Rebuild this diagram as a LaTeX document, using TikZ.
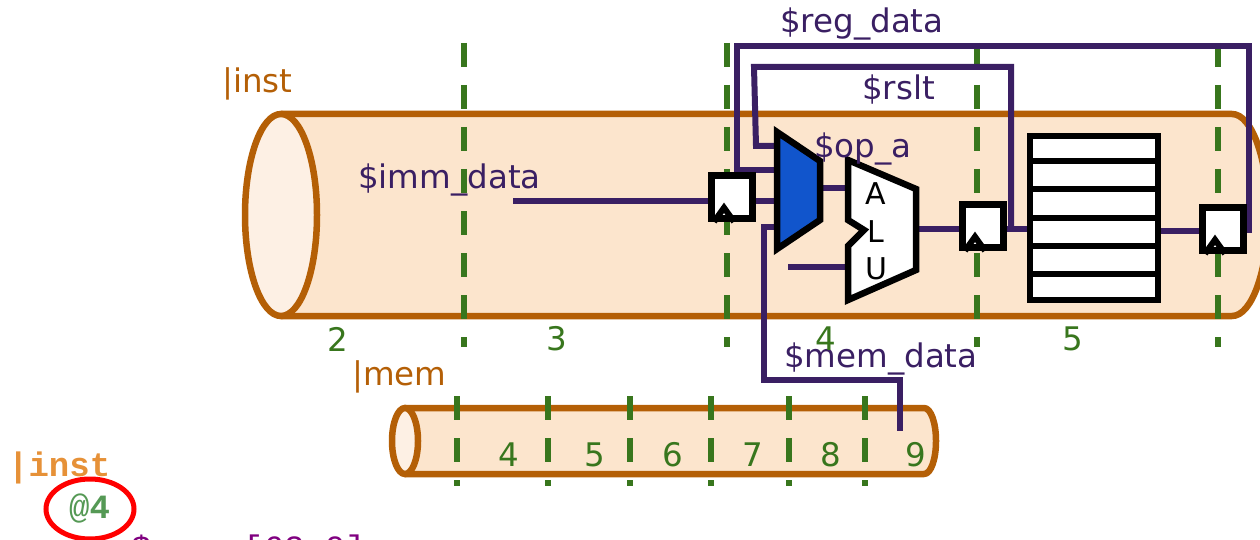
\documentclass[tikz,border=0pt]{standalone}
\usepackage{fontspec}
\setmainfont{DejaVu Sans}
\setmonofont{Liberation Mono}
\definecolor{pipeorange}{HTML}{B45F06}
\definecolor{pipefill}{HTML}{FCE5CD}
\definecolor{pipeend}{HTML}{FDF0E4}
\definecolor{stagegreen}{HTML}{38761D}
\definecolor{sigpurple}{HTML}{3A1F63}
\definecolor{muxblue}{HTML}{1155CC}
\definecolor{codeorange}{HTML}{E69138}
\definecolor{codegreen}{HTML}{559955}
\definecolor{codepurple}{HTML}{800080}
\tikzset{
  pipeline/.style={draw=pipeorange,line width=6.5pt,fill=pipefill,line join=round},
  pipecap/.style={draw=pipeorange,line width=6.5pt,fill=pipeend},
  stage/.style={draw=stagegreen,line width=6pt,dash pattern=on 24pt off 18pt},
  wire/.style={draw=sigpurple,line width=6pt,line join=miter},
  part/.style={draw=black,line width=6.5pt,line join=miter,fill=white},
  sigtext/.style={text=sigpurple,font=\fontsize{32.5}{32.5}\selectfont,inner sep=0pt},
  pipetext/.style={text=pipeorange,font=\fontsize{32.5}{32.5}\selectfont,inner sep=0pt},
  stagetext/.style={text=stagegreen,font=\fontsize{32.5}{32.5}\selectfont,inner sep=0pt},
  alutext/.style={text=black,font=\fontsize{30}{30}\selectfont,inner sep=0pt},
  codetext/.style={anchor=base west,inner sep=0pt,font=\ttfamily\fontsize{34}{34}\selectfont},
  flop/.style={part,minimum width=41pt,minimum height=43pt,inner sep=0pt},
}
\begin{document}
\begin{tikzpicture}[x=1pt,y=-1pt]
\useasboundingbox (0,0) rectangle (1260,540);

% pipelines
\draw[pipeline] (281,114) -- (1232,114) .. controls (1252,114) and (1268,160) .. (1268,215)
  .. controls (1268,270) and (1252,316) .. (1232,316) -- (281,316) -- cycle;
\draw[pipecap] (281,215) ellipse[x radius=36,y radius=101];
\draw[pipeline] (405,408) -- (924,408) .. controls (931,408) and (936,423) .. (936,441)
  .. controls (936,459) and (931,474) .. (924,474) -- (405,474) -- cycle;
\draw[pipecap] (405,441) ellipse[x radius=13,y radius=33];

% stage lines
\foreach \stagex in {464,727,977,1218}
  \draw[stage] (\stagex,43) -- (\stagex,347);
\foreach \stagex in {457,548,630,711,789,865}
  \draw[stage] (\stagex,396) -- (\stagex,486);

% wires
\draw[wire] (513,201) -- (776,201);
\draw[wire] (776,170) -- (737,170) -- (737,46) -- (1249,46) -- (1249,230) -- (1240,230);
\draw[wire] (776,146) -- (756,146) -- (754,67) -- (1011,67) -- (1011,229);
\draw[wire] (820,188) -- (850,188);
\draw[wire] (788,267) -- (850,267);
\draw[wire] (916,229) -- (1030,229);
\draw[wire] (1158,231) -- (1204,231);
\draw[wire] (776,227) -- (764,227) -- (764,380) -- (900,380) -- (900,431);

% mux and alu
\draw[part,fill=muxblue] (777,132) -- (820,161) -- (820,220) -- (777,249) -- cycle;
\draw[part] (848,160) -- (916,189) -- (916,270) -- (848,300) -- (848,246) -- (864,230) -- (848,220) -- cycle;
\node[alutext] (alua) at (876,194) {A};
\node[alutext] (alul) at (876,232) {L};
\node[alutext] (aluu) at (876,269) {U};

% flip flops
\node[flop] (floppre) at (732,197) {};
\node[flop] (flopalu) at (983,226) {};
\node[flop] (flopreg) at (1223,229) {};
\foreach \flopname in {floppre,flopalu,flopreg}
  \draw[black,line width=6pt] ([xshift=-18pt]\flopname.south) -- ([xshift=-8pt,yshift=14pt]\flopname.south) -- ([xshift=2pt]\flopname.south);

% register file
\draw[part] (1030,136) rectangle (1158,300);
\foreach \regy in {161,189,218,246,274}
  \draw[black,line width=6pt] (1030,\regy) -- (1158,\regy);

% labels
\node[sigtext,anchor=base west] (regdata) at (780,33) {\$reg\_data};
\node[sigtext,anchor=base west] (rslt) at (862,100) {\$rslt};
\node[sigtext,anchor=base west] (opa) at (814,158) {\$op\_a};
\node[sigtext,anchor=base west] (immdata) at (358,189) {\$imm\_data};
\node[sigtext,anchor=base west] (memdata) at (784,367) {\$mem\_data};
\node[pipetext,anchor=base west] (inst) at (222,93) {|inst};
\node[pipetext,anchor=base west] (mem) at (352,385) {|mem};
\foreach \stagenum/\stagex in {2/338,3/557,4/826,5/1073}
  \node[stagetext] (stage\stagenum) at (\stagex,339) {\stagenum};
\foreach \memnum/\memx in {4/509,5/595,6/673,7/753,8/831,9/916}
  \node[stagetext] (mem\memnum) at (\memx,455) {\memnum};

% code lines
\node[codetext,text=codeorange] (codeinst) at (8,476) {\bfseries|inst};
\node[codetext,text=codegreen] (codeat) at (69,518) {@\textbf{4}};
\draw[red,line width=5pt] (90,509) ellipse[x radius=44,y radius=30];
\node[codetext,text=codepurple] (codesig) at (131,559) {\$};
\node[codetext,text=codepurple] (coderange) at (243,559) {[63:0]};
\end{tikzpicture}
\end{document}
